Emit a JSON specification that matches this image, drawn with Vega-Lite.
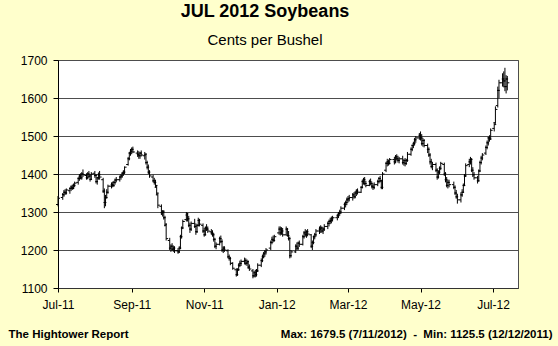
{
"$schema":"https://vega.github.io/schema/vega-lite/v6.json",
"width":460,"height":228,
"autosize":{"type":"none"},
"padding":{"left":58,"top":60,"right":40,"bottom":58},
"background":"#FFFFCC",
"title":{"text":"JUL 2012 Soybeans","subtitle":"Cents per Bushel","fontSize":18,"fontWeight":"bold","font":"Liberation Sans","subtitleFont":"Liberation Sans","subtitleFontSize":15,"subtitleColor":"black","color":"black","anchor":"middle","frame":"group","dx":-23,"offset":6,"subtitlePadding":12},
"data":{"values":[
{"d":"2011-07-01","o":1320,"h":1342,"l":1315,"c":1336},
{"d":"2011-07-05","o":1338,"h":1350,"l":1332,"c":1345},
{"d":"2011-07-06","o":1346,"h":1358,"l":1340,"c":1352},
{"d":"2011-07-07","o":1352,"h":1360,"l":1345,"c":1350},
{"d":"2011-07-08","o":1350,"h":1362,"l":1346,"c":1358},
{"d":"2011-07-11","o":1356,"h":1365,"l":1348,"c":1362},
{"d":"2011-07-12","o":1362,"h":1370,"l":1355,"c":1365},
{"d":"2011-07-13","o":1366,"h":1372,"l":1358,"c":1362},
{"d":"2011-07-14","o":1362,"h":1375,"l":1360,"c":1370},
{"d":"2011-07-15","o":1370,"h":1380,"l":1365,"c":1376},
{"d":"2011-07-18","o":1378,"h":1392,"l":1372,"c":1388},
{"d":"2011-07-19","o":1388,"h":1400,"l":1382,"c":1395},
{"d":"2011-07-20","o":1394,"h":1402,"l":1386,"c":1390},
{"d":"2011-07-21","o":1390,"h":1405,"l":1385,"c":1400},
{"d":"2011-07-22","o":1400,"h":1412,"l":1392,"c":1398},
{"d":"2011-07-25","o":1396,"h":1402,"l":1385,"c":1390},
{"d":"2011-07-26","o":1390,"h":1405,"l":1386,"c":1400},
{"d":"2011-07-27","o":1400,"h":1408,"l":1390,"c":1395},
{"d":"2011-07-28","o":1394,"h":1400,"l":1380,"c":1386},
{"d":"2011-07-29","o":1386,"h":1405,"l":1384,"c":1400},
{"d":"2011-08-01","o":1402,"h":1408,"l":1390,"c":1396},
{"d":"2011-08-02","o":1396,"h":1400,"l":1375,"c":1380},
{"d":"2011-08-03","o":1380,"h":1392,"l":1372,"c":1390},
{"d":"2011-08-04","o":1390,"h":1404,"l":1385,"c":1398},
{"d":"2011-08-05","o":1398,"h":1408,"l":1385,"c":1392},
{"d":"2011-08-08","o":1385,"h":1390,"l":1350,"c":1355},
{"d":"2011-08-09","o":1355,"h":1362,"l":1310,"c":1325},
{"d":"2011-08-10","o":1325,"h":1345,"l":1315,"c":1338},
{"d":"2011-08-11","o":1338,"h":1360,"l":1335,"c":1352},
{"d":"2011-08-12","o":1352,"h":1372,"l":1348,"c":1368},
{"d":"2011-08-15","o":1368,"h":1378,"l":1362,"c":1372},
{"d":"2011-08-16","o":1372,"h":1380,"l":1365,"c":1370},
{"d":"2011-08-17","o":1370,"h":1382,"l":1366,"c":1378},
{"d":"2011-08-18","o":1378,"h":1388,"l":1372,"c":1384},
{"d":"2011-08-19","o":1384,"h":1392,"l":1378,"c":1385},
{"d":"2011-08-22","o":1385,"h":1396,"l":1380,"c":1392},
{"d":"2011-08-23","o":1392,"h":1400,"l":1385,"c":1395},
{"d":"2011-08-24","o":1395,"h":1405,"l":1390,"c":1402},
{"d":"2011-08-25","o":1402,"h":1410,"l":1395,"c":1405},
{"d":"2011-08-26","o":1405,"h":1420,"l":1400,"c":1418},
{"d":"2011-08-29","o":1425,"h":1445,"l":1422,"c":1440},
{"d":"2011-08-30","o":1440,"h":1458,"l":1436,"c":1455},
{"d":"2011-08-31","o":1455,"h":1466,"l":1448,"c":1460},
{"d":"2011-09-01","o":1460,"h":1470,"l":1452,"c":1465},
{"d":"2011-09-02","o":1465,"h":1472,"l":1455,"c":1458},
{"d":"2011-09-06","o":1455,"h":1462,"l":1445,"c":1452},
{"d":"2011-09-07","o":1452,"h":1460,"l":1440,"c":1448},
{"d":"2011-09-08","o":1448,"h":1458,"l":1440,"c":1455},
{"d":"2011-09-09","o":1455,"h":1462,"l":1446,"c":1450},
{"d":"2011-09-12","o":1448,"h":1458,"l":1438,"c":1452},
{"d":"2011-09-13","o":1450,"h":1455,"l":1425,"c":1430},
{"d":"2011-09-14","o":1430,"h":1435,"l":1412,"c":1418},
{"d":"2011-09-15","o":1418,"h":1425,"l":1400,"c":1405},
{"d":"2011-09-16","o":1405,"h":1410,"l":1390,"c":1395},
{"d":"2011-09-19","o":1392,"h":1398,"l":1378,"c":1382},
{"d":"2011-09-20","o":1382,"h":1390,"l":1372,"c":1378},
{"d":"2011-09-21","o":1378,"h":1385,"l":1365,"c":1370},
{"d":"2011-09-22","o":1365,"h":1370,"l":1345,"c":1350},
{"d":"2011-09-23","o":1345,"h":1350,"l":1310,"c":1318},
{"d":"2011-09-26","o":1315,"h":1320,"l":1292,"c":1298},
{"d":"2011-09-27","o":1298,"h":1305,"l":1288,"c":1300},
{"d":"2011-09-28","o":1300,"h":1305,"l":1280,"c":1285},
{"d":"2011-09-29","o":1285,"h":1290,"l":1262,"c":1268},
{"d":"2011-09-30","o":1265,"h":1270,"l":1225,"c":1230},
{"d":"2011-10-03","o":1225,"h":1232,"l":1200,"c":1205},
{"d":"2011-10-04","o":1205,"h":1215,"l":1195,"c":1210},
{"d":"2011-10-05","o":1210,"h":1218,"l":1198,"c":1202},
{"d":"2011-10-06","o":1202,"h":1212,"l":1195,"c":1205},
{"d":"2011-10-07","o":1205,"h":1210,"l":1192,"c":1198},
{"d":"2011-10-10","o":1198,"h":1205,"l":1190,"c":1195},
{"d":"2011-10-11","o":1195,"h":1210,"l":1192,"c":1205},
{"d":"2011-10-12","o":1205,"h":1240,"l":1202,"c":1235},
{"d":"2011-10-13","o":1235,"h":1262,"l":1230,"c":1258},
{"d":"2011-10-14","o":1258,"h":1280,"l":1255,"c":1275},
{"d":"2011-10-17","o":1280,"h":1300,"l":1275,"c":1295},
{"d":"2011-10-18","o":1292,"h":1298,"l":1275,"c":1282},
{"d":"2011-10-19","o":1282,"h":1290,"l":1260,"c":1265},
{"d":"2011-10-20","o":1265,"h":1272,"l":1245,"c":1255},
{"d":"2011-10-21","o":1255,"h":1275,"l":1250,"c":1270},
{"d":"2011-10-24","o":1270,"h":1282,"l":1258,"c":1262},
{"d":"2011-10-25","o":1262,"h":1270,"l":1240,"c":1248},
{"d":"2011-10-26","o":1248,"h":1268,"l":1245,"c":1265},
{"d":"2011-10-27","o":1265,"h":1285,"l":1262,"c":1278},
{"d":"2011-10-28","o":1278,"h":1282,"l":1262,"c":1268},
{"d":"2011-10-31","o":1265,"h":1270,"l":1245,"c":1250},
{"d":"2011-11-01","o":1250,"h":1258,"l":1235,"c":1240},
{"d":"2011-11-02","o":1240,"h":1262,"l":1238,"c":1258},
{"d":"2011-11-03","o":1258,"h":1268,"l":1250,"c":1255},
{"d":"2011-11-04","o":1255,"h":1262,"l":1245,"c":1250},
{"d":"2011-11-07","o":1248,"h":1255,"l":1240,"c":1245},
{"d":"2011-11-08","o":1245,"h":1252,"l":1235,"c":1240},
{"d":"2011-11-09","o":1240,"h":1245,"l":1222,"c":1228},
{"d":"2011-11-10","o":1228,"h":1232,"l":1205,"c":1210},
{"d":"2011-11-11","o":1210,"h":1220,"l":1202,"c":1215},
{"d":"2011-11-14","o":1215,"h":1235,"l":1212,"c":1230},
{"d":"2011-11-15","o":1230,"h":1238,"l":1218,"c":1222},
{"d":"2011-11-16","o":1222,"h":1228,"l":1195,"c":1200},
{"d":"2011-11-17","o":1200,"h":1210,"l":1192,"c":1205},
{"d":"2011-11-18","o":1205,"h":1210,"l":1195,"c":1200},
{"d":"2011-11-21","o":1198,"h":1202,"l":1178,"c":1182},
{"d":"2011-11-22","o":1182,"h":1188,"l":1172,"c":1178},
{"d":"2011-11-23","o":1178,"h":1182,"l":1160,"c":1165},
{"d":"2011-11-25","o":1165,"h":1168,"l":1148,"c":1152},
{"d":"2011-11-28","o":1148,"h":1152,"l":1130,"c":1135},
{"d":"2011-11-29","o":1135,"h":1152,"l":1132,"c":1148},
{"d":"2011-11-30","o":1148,"h":1165,"l":1145,"c":1160},
{"d":"2011-12-01","o":1160,"h":1172,"l":1155,"c":1165},
{"d":"2011-12-02","o":1165,"h":1175,"l":1158,"c":1170},
{"d":"2011-12-05","o":1170,"h":1180,"l":1162,"c":1172},
{"d":"2011-12-06","o":1172,"h":1178,"l":1160,"c":1165},
{"d":"2011-12-07","o":1165,"h":1175,"l":1158,"c":1170},
{"d":"2011-12-08","o":1168,"h":1172,"l":1150,"c":1155},
{"d":"2011-12-09","o":1155,"h":1162,"l":1145,"c":1150},
{"d":"2011-12-12","o":1145,"h":1150,"l":1125.5,"c":1132},
{"d":"2011-12-13","o":1132,"h":1145,"l":1128,"c":1140},
{"d":"2011-12-14","o":1140,"h":1148,"l":1128,"c":1135},
{"d":"2011-12-15","o":1135,"h":1150,"l":1130,"c":1145},
{"d":"2011-12-16","o":1145,"h":1165,"l":1142,"c":1160},
{"d":"2011-12-19","o":1160,"h":1178,"l":1155,"c":1172},
{"d":"2011-12-20","o":1172,"h":1188,"l":1168,"c":1182},
{"d":"2011-12-21","o":1182,"h":1195,"l":1178,"c":1190},
{"d":"2011-12-22","o":1190,"h":1200,"l":1182,"c":1195},
{"d":"2011-12-23","o":1195,"h":1205,"l":1188,"c":1200},
{"d":"2011-12-27","o":1205,"h":1225,"l":1200,"c":1220},
{"d":"2011-12-28","o":1220,"h":1235,"l":1215,"c":1228},
{"d":"2011-12-29","o":1228,"h":1238,"l":1220,"c":1225},
{"d":"2011-12-30","o":1225,"h":1240,"l":1222,"c":1235},
{"d":"2012-01-03","o":1245,"h":1262,"l":1240,"c":1255},
{"d":"2012-01-04","o":1255,"h":1262,"l":1238,"c":1245},
{"d":"2012-01-05","o":1245,"h":1260,"l":1240,"c":1250},
{"d":"2012-01-06","o":1250,"h":1258,"l":1235,"c":1240},
{"d":"2012-01-09","o":1240,"h":1262,"l":1238,"c":1255},
{"d":"2012-01-10","o":1255,"h":1258,"l":1235,"c":1238},
{"d":"2012-01-11","o":1238,"h":1250,"l":1225,"c":1230},
{"d":"2012-01-12","o":1230,"h":1235,"l":1178,"c":1185},
{"d":"2012-01-13","o":1185,"h":1200,"l":1180,"c":1195},
{"d":"2012-01-17","o":1195,"h":1215,"l":1192,"c":1210},
{"d":"2012-01-18","o":1210,"h":1220,"l":1200,"c":1205},
{"d":"2012-01-19","o":1205,"h":1222,"l":1200,"c":1218},
{"d":"2012-01-20","o":1218,"h":1225,"l":1208,"c":1215},
{"d":"2012-01-23","o":1215,"h":1240,"l":1212,"c":1235},
{"d":"2012-01-24","o":1235,"h":1250,"l":1230,"c":1245},
{"d":"2012-01-25","o":1245,"h":1255,"l":1235,"c":1240},
{"d":"2012-01-26","o":1240,"h":1252,"l":1232,"c":1248},
{"d":"2012-01-27","o":1248,"h":1255,"l":1236,"c":1242},
{"d":"2012-01-30","o":1240,"h":1242,"l":1205,"c":1210},
{"d":"2012-01-31","o":1210,"h":1225,"l":1200,"c":1220},
{"d":"2012-02-01","o":1220,"h":1238,"l":1215,"c":1235},
{"d":"2012-02-02","o":1235,"h":1245,"l":1228,"c":1240},
{"d":"2012-02-03","o":1240,"h":1255,"l":1235,"c":1250},
{"d":"2012-02-06","o":1250,"h":1262,"l":1242,"c":1255},
{"d":"2012-02-07","o":1255,"h":1265,"l":1245,"c":1258},
{"d":"2012-02-08","o":1258,"h":1262,"l":1245,"c":1250},
{"d":"2012-02-09","o":1250,"h":1260,"l":1242,"c":1255},
{"d":"2012-02-10","o":1255,"h":1268,"l":1250,"c":1262},
{"d":"2012-02-13","o":1262,"h":1275,"l":1255,"c":1270},
{"d":"2012-02-14","o":1270,"h":1280,"l":1262,"c":1275},
{"d":"2012-02-15","o":1275,"h":1285,"l":1268,"c":1278},
{"d":"2012-02-16","o":1278,"h":1288,"l":1270,"c":1282},
{"d":"2012-02-17","o":1282,"h":1290,"l":1275,"c":1285},
{"d":"2012-02-21","o":1285,"h":1295,"l":1278,"c":1290},
{"d":"2012-02-22","o":1290,"h":1300,"l":1284,"c":1296},
{"d":"2012-02-23","o":1296,"h":1306,"l":1290,"c":1300},
{"d":"2012-02-24","o":1300,"h":1315,"l":1295,"c":1310},
{"d":"2012-02-27","o":1310,"h":1325,"l":1305,"c":1320},
{"d":"2012-02-28","o":1320,"h":1330,"l":1312,"c":1325},
{"d":"2012-02-29","o":1325,"h":1338,"l":1318,"c":1332},
{"d":"2012-03-01","o":1332,"h":1342,"l":1325,"c":1335},
{"d":"2012-03-02","o":1335,"h":1345,"l":1328,"c":1338},
{"d":"2012-03-05","o":1338,"h":1350,"l":1330,"c":1345},
{"d":"2012-03-06","o":1345,"h":1352,"l":1335,"c":1340},
{"d":"2012-03-07","o":1340,"h":1355,"l":1336,"c":1350},
{"d":"2012-03-08","o":1350,"h":1360,"l":1342,"c":1355},
{"d":"2012-03-09","o":1355,"h":1362,"l":1346,"c":1352},
{"d":"2012-03-12","o":1352,"h":1368,"l":1350,"c":1365},
{"d":"2012-03-13","o":1365,"h":1385,"l":1362,"c":1380},
{"d":"2012-03-14","o":1380,"h":1390,"l":1372,"c":1385},
{"d":"2012-03-15","o":1385,"h":1392,"l":1370,"c":1375},
{"d":"2012-03-16","o":1375,"h":1382,"l":1365,"c":1370},
{"d":"2012-03-19","o":1370,"h":1385,"l":1368,"c":1380},
{"d":"2012-03-20","o":1380,"h":1388,"l":1370,"c":1375},
{"d":"2012-03-21","o":1375,"h":1380,"l":1362,"c":1368},
{"d":"2012-03-22","o":1368,"h":1375,"l":1358,"c":1365},
{"d":"2012-03-23","o":1365,"h":1378,"l":1360,"c":1372},
{"d":"2012-03-26","o":1372,"h":1385,"l":1368,"c":1380},
{"d":"2012-03-27","o":1380,"h":1392,"l":1375,"c":1388},
{"d":"2012-03-28","o":1388,"h":1395,"l":1378,"c":1382},
{"d":"2012-03-29","o":1382,"h":1385,"l":1360,"c":1365},
{"d":"2012-03-30","o":1365,"h":1405,"l":1360,"c":1400},
{"d":"2012-04-02","o":1410,"h":1432,"l":1405,"c":1428},
{"d":"2012-04-03","o":1428,"h":1440,"l":1420,"c":1432},
{"d":"2012-04-04","o":1432,"h":1438,"l":1422,"c":1428},
{"d":"2012-04-05","o":1428,"h":1442,"l":1425,"c":1438},
{"d":"2012-04-09","o":1438,"h":1445,"l":1425,"c":1432},
{"d":"2012-04-10","o":1432,"h":1450,"l":1428,"c":1445},
{"d":"2012-04-11","o":1445,"h":1452,"l":1435,"c":1440},
{"d":"2012-04-12","o":1440,"h":1448,"l":1430,"c":1436},
{"d":"2012-04-13","o":1436,"h":1445,"l":1428,"c":1440},
{"d":"2012-04-16","o":1440,"h":1448,"l":1425,"c":1430},
{"d":"2012-04-17","o":1430,"h":1440,"l":1422,"c":1435},
{"d":"2012-04-18","o":1435,"h":1442,"l":1420,"c":1428},
{"d":"2012-04-19","o":1428,"h":1440,"l":1424,"c":1436},
{"d":"2012-04-20","o":1436,"h":1458,"l":1432,"c":1452},
{"d":"2012-04-23","o":1452,"h":1470,"l":1448,"c":1465},
{"d":"2012-04-24","o":1465,"h":1478,"l":1460,"c":1475},
{"d":"2012-04-25","o":1475,"h":1485,"l":1468,"c":1480},
{"d":"2012-04-26","o":1480,"h":1495,"l":1475,"c":1490},
{"d":"2012-04-27","o":1490,"h":1500,"l":1482,"c":1495},
{"d":"2012-04-30","o":1495,"h":1508,"l":1490,"c":1502},
{"d":"2012-05-01","o":1502,"h":1512,"l":1488,"c":1495},
{"d":"2012-05-02","o":1495,"h":1505,"l":1475,"c":1480},
{"d":"2012-05-03","o":1480,"h":1495,"l":1472,"c":1488},
{"d":"2012-05-04","o":1488,"h":1492,"l":1470,"c":1475},
{"d":"2012-05-07","o":1475,"h":1480,"l":1455,"c":1465},
{"d":"2012-05-08","o":1465,"h":1470,"l":1445,"c":1450},
{"d":"2012-05-09","o":1450,"h":1455,"l":1425,"c":1432},
{"d":"2012-05-10","o":1432,"h":1440,"l":1415,"c":1420},
{"d":"2012-05-11","o":1420,"h":1432,"l":1410,"c":1425},
{"d":"2012-05-14","o":1425,"h":1430,"l":1405,"c":1410},
{"d":"2012-05-15","o":1410,"h":1415,"l":1385,"c":1392},
{"d":"2012-05-16","o":1392,"h":1410,"l":1388,"c":1405},
{"d":"2012-05-17","o":1405,"h":1420,"l":1400,"c":1415},
{"d":"2012-05-18","o":1415,"h":1432,"l":1410,"c":1428},
{"d":"2012-05-21","o":1425,"h":1430,"l":1395,"c":1400},
{"d":"2012-05-22","o":1400,"h":1405,"l":1378,"c":1385},
{"d":"2012-05-23","o":1385,"h":1392,"l":1365,"c":1370},
{"d":"2012-05-24","o":1370,"h":1385,"l":1362,"c":1378},
{"d":"2012-05-25","o":1378,"h":1385,"l":1365,"c":1372},
{"d":"2012-05-29","o":1372,"h":1380,"l":1360,"c":1365},
{"d":"2012-05-30","o":1365,"h":1370,"l":1345,"c":1350},
{"d":"2012-05-31","o":1350,"h":1358,"l":1335,"c":1340},
{"d":"2012-06-01","o":1340,"h":1348,"l":1322,"c":1332},
{"d":"2012-06-04","o":1332,"h":1352,"l":1325,"c":1345},
{"d":"2012-06-05","o":1345,"h":1360,"l":1340,"c":1352},
{"d":"2012-06-06","o":1352,"h":1375,"l":1350,"c":1370},
{"d":"2012-06-07","o":1370,"h":1400,"l":1368,"c":1395},
{"d":"2012-06-08","o":1395,"h":1428,"l":1392,"c":1422},
{"d":"2012-06-11","o":1425,"h":1440,"l":1418,"c":1432},
{"d":"2012-06-12","o":1432,"h":1445,"l":1425,"c":1438},
{"d":"2012-06-13","o":1438,"h":1442,"l":1405,"c":1410},
{"d":"2012-06-14","o":1410,"h":1418,"l":1392,"c":1398},
{"d":"2012-06-15","o":1398,"h":1405,"l":1385,"c":1390},
{"d":"2012-06-18","o":1390,"h":1395,"l":1375,"c":1382},
{"d":"2012-06-19","o":1382,"h":1412,"l":1380,"c":1408},
{"d":"2012-06-20","o":1408,"h":1435,"l":1405,"c":1430},
{"d":"2012-06-21","o":1430,"h":1448,"l":1425,"c":1442},
{"d":"2012-06-22","o":1442,"h":1455,"l":1436,"c":1450},
{"d":"2012-06-25","o":1455,"h":1475,"l":1450,"c":1470},
{"d":"2012-06-26","o":1470,"h":1488,"l":1465,"c":1482},
{"d":"2012-06-27","o":1482,"h":1498,"l":1475,"c":1495},
{"d":"2012-06-28","o":1495,"h":1502,"l":1485,"c":1492},
{"d":"2012-06-29","o":1492,"h":1520,"l":1490,"c":1515},
{"d":"2012-07-02","o":1520,"h":1535,"l":1512,"c":1530},
{"d":"2012-07-03","o":1535,"h":1578,"l":1532,"c":1570},
{"d":"2012-07-05","o":1580,"h":1630,"l":1575,"c":1620},
{"d":"2012-07-06","o":1620,"h":1648,"l":1600,"c":1640},
{"d":"2012-07-09","o":1640,"h":1665,"l":1630,"c":1650},
{"d":"2012-07-10","o":1650,"h":1670,"l":1628,"c":1645},
{"d":"2012-07-11","o":1645,"h":1679.5,"l":1618,"c":1630},
{"d":"2012-07-12","o":1630,"h":1660,"l":1612,"c":1650},
{"d":"2012-07-13","o":1650,"h":1658,"l":1620,"c":1640}
]},
"encoding":{"x":{"field":"d","type":"temporal",
 "scale":{"type":"utc","domain":[{"year":2011,"month":7,"date":1,"utc":true},{"year":2012,"month":7,"date":22,"utc":true}]},
 "axis":{"values":[{"year":2011,"month":7,"date":1,"utc":true},{"year":2011,"month":9,"date":1,"utc":true},{"year":2011,"month":11,"date":1,"utc":true},{"year":2012,"month":1,"date":1,"utc":true},{"year":2012,"month":3,"date":1,"utc":true},{"year":2012,"month":5,"date":1,"utc":true},{"year":2012,"month":7,"date":1,"utc":true}],
  "labelExpr":"utcFormat(datum.value, '%b-%y')","grid":false,"domainColor":"#333333","tickColor":"black","tickSize":4,"labelPadding":7,"labelFont":"Liberation Sans","labelFontSize":12,"labelColor":"black","labelFlush":false,"labelOverlap":false,
  "title":"Max: 1679.5 (7/11/2012)\u00a0\u00a0-\u00a0\u00a0Min: 1125.5 (12/12/2011)","titleX":494,"titleY":49,"titleAlign":"right","titleBaseline":"alphabetic","titleFont":"Liberation Sans","titleFontSize":11.5,"titleFontWeight":"bold","titleColor":"black"}}},
"layer":[
 {"mark":{"type":"rule","color":"black","strokeWidth":1},
  "encoding":{"y":{"field":"l","type":"quantitative","scale":{"domain":[1100,1700],"nice":false},
   "axis":{"values":[1100,1200,1300,1400,1500,1600,1700],"format":"d","labelOverlap":false,"grid":true,"gridColor":"#4d4d4d","gridWidth":1,"domainColor":"black","tickColor":"black","tickSize":5,"labelPadding":6,"labelFont":"Liberation Sans","labelFontSize":12,"labelColor":"black","labelFlush":false,
    "title":"The Hightower Report","titleAngle":0,"titleAlign":"left","titleBaseline":"alphabetic","titleX":-50,"titleY":277,"titleFont":"Liberation Sans","titleFontSize":11.5,"titleFontWeight":"bold","titleColor":"black"}},
  "y2":{"field":"h"}}},
 {"mark":{"type":"tick","orient":"horizontal","size":2,"thickness":1,"xOffset":-1,"color":"black","opacity":1},
  "encoding":{"y":{"field":"o","type":"quantitative",
   "axis":{"values":[1100,1200,1300,1400,1500,1600,1700],"format":"d","labelOverlap":false,"grid":true,"gridColor":"#4d4d4d","gridWidth":1,"domainColor":"black","tickColor":"black","tickSize":5,"labelPadding":6,"labelFont":"Liberation Sans","labelFontSize":12,"labelColor":"black","labelFlush":false,
    "title":"The Hightower Report","titleAngle":0,"titleAlign":"left","titleBaseline":"alphabetic","titleX":-50,"titleY":277,"titleFont":"Liberation Sans","titleFontSize":11.5,"titleFontWeight":"bold","titleColor":"black"}}}},
 {"mark":{"type":"tick","orient":"horizontal","size":2,"thickness":1,"xOffset":1,"color":"black","opacity":1},
  "encoding":{"y":{"field":"c","type":"quantitative",
   "axis":{"values":[1100,1200,1300,1400,1500,1600,1700],"format":"d","labelOverlap":false,"grid":true,"gridColor":"#4d4d4d","gridWidth":1,"domainColor":"black","tickColor":"black","tickSize":5,"labelPadding":6,"labelFont":"Liberation Sans","labelFontSize":12,"labelColor":"black","labelFlush":false,
    "title":"The Hightower Report","titleAngle":0,"titleAlign":"left","titleBaseline":"alphabetic","titleX":-50,"titleY":277,"titleFont":"Liberation Sans","titleFontSize":11.5,"titleFontWeight":"bold","titleColor":"black"}}}}
],
"config":{"view":{"fill":"white","stroke":"#4d4d4d","strokeWidth":1},"font":"Liberation Sans"}
}
